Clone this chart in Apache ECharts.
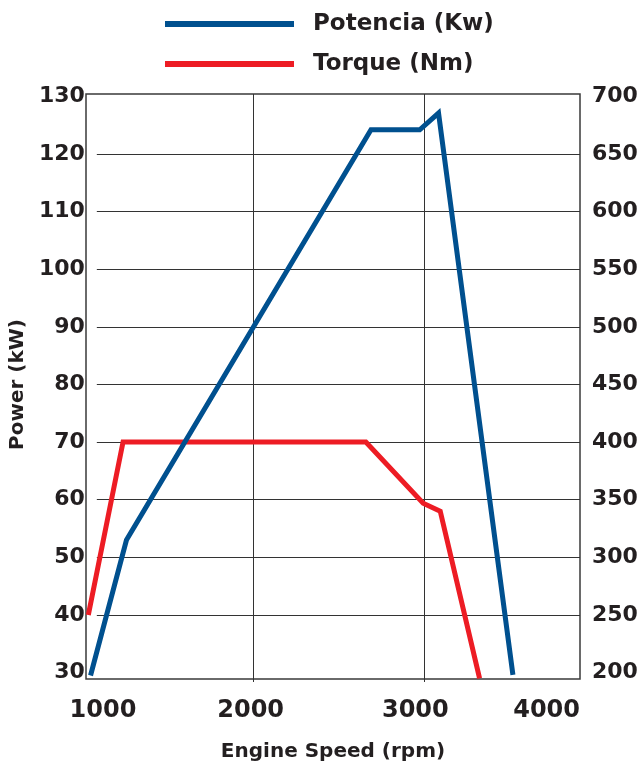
<!DOCTYPE html>
<html>
<head>
<meta charset="utf-8">
<script src="https://cdn.jsdelivr.net/npm/echarts@6/dist/echarts.min.js"></script>
<style>
html,body{margin:0;padding:0;background:#fff;}
#c{width:642px;height:767px;}
</style>
</head>
<body>
<div id="c"></div>
<script>
// Data
const rpmPower = [1050, 1260, 2690, 2975, 3085, 3520];
const powerKw  = [29.5, 53, 124.2, 124.2, 127.1, 29.6];
const rpmTorque = [1037, 1240, 2660, 2995, 3095, 3325];
const torqueNm  = [250, 400, 400, 347, 340, 195];
const rpmTicks = [1000, 2000, 3000, 4000];
const powerTicks = [30, 130, 10];
const torqueTicks = [200, 700, 50];
const seriesNames = ['Potencia (Kw)', 'Torque (Nm)'];

const FONT = '"DejaVu Sans"';
const TXT = '#231f20';
const BLUE = '#00508f';
const RED = '#ed1c24';
const GRIDC = '#333333';

const chart = echarts.init(document.getElementById('c'), null, {renderer: 'canvas'});

const pSeries = rpmPower.map((r, i) => [r, powerKw[i]]);
const tSeries = rpmTorque.map((r, i) => [r, torqueNm[i]]);

const nPow = (powerTicks[1] - powerTicks[0]) / powerTicks[2] + 1;
const hColors = [];
for (let i = 0; i < nPow; i++) hColors.push(i === 0 || i === nPow - 1 ? 'rgba(0,0,0,0)' : GRIDC);
const vColors = rpmTicks.map((v, i) => (i === 0 || i === rpmTicks.length - 1) ? 'rgba(0,0,0,0)' : GRIDC);

const option = {
  animation: false,
  backgroundColor: '#ffffff',
  legend: {
    orient: 'vertical',
    left: 165,
    top: 11,
    padding: 0,
    itemWidth: 129,
    itemHeight: 6,
    itemGap: 14,
    icon: 'rect',
    data: seriesNames,
    textStyle: {
      fontFamily: FONT, fontWeight: 'bold', fontSize: 23, color: TXT,
      lineHeight: 26, padding: [0, 0, 0, 14]
    }
  },
  grid: [
    {left: 82, right: 47, top: 94, bottom: 85},
    {left: 86, right: 62, top: 96.4, bottom: 94.4},
    {left: 86, right: 62, top: 94, bottom: 85, show: true, borderColor: '#3a3a3a', borderWidth: 1.5, backgroundColor: 'rgba(0,0,0,0)'}
  ],
  xAxis: [
    {
      gridIndex: 0, type: 'value', min: rpmTicks[0], max: rpmTicks[rpmTicks.length - 1], interval: 1000,
      axisLine: {show: false}, axisTick: {show: false}, axisLabel: {show: false},
      splitLine: {show: true, lineStyle: {color: vColors, width: 1}}
    },
    {gridIndex: 1, type: 'value', min: rpmTicks[0], max: rpmTicks[rpmTicks.length - 1], show: false},
    {
      gridIndex: 2, type: 'value', min: rpmTicks[0], max: rpmTicks[rpmTicks.length - 1], interval: 1000,
      axisLine: {show: false}, axisTick: {show: false}, splitLine: {show: false},
      axisLabel: {
        show: true, margin: 20, fontFamily: FONT, fontWeight: 'bold', fontSize: 24, color: TXT,
        alignMaxLabel: 'right',
        formatter: function (v) { return v === rpmTicks[0] ? '{p|' + v + '}' : String(v); },
        rich: {p: {padding: [0, 0, 0, 34], fontFamily: FONT, fontWeight: 'bold', fontSize: 24, color: TXT}}
      },
      name: 'Engine Speed (rpm)', nameLocation: 'middle', nameGap: 63,
      nameTextStyle: {fontFamily: FONT, fontWeight: 'bold', fontSize: 20, color: TXT}
    }
  ],
  yAxis: [
    {gridIndex: 0, type: 'value', min: 28.37, max: 130.41, show: false},
    {gridIndex: 0, type: 'value', min: 191.85, max: 702.05, show: false, position: 'right'},
    {
      gridIndex: 1, type: 'value', min: powerTicks[0], max: powerTicks[1], interval: powerTicks[2],
      axisLine: {show: false}, axisTick: {show: false},
      axisLabel: {margin: 12, fontFamily: FONT, fontWeight: 'bold', fontSize: 22, color: TXT},
      splitLine: {show: true, lineStyle: {color: hColors, width: 1}},
      name: 'Power (kW)', nameLocation: 'middle', nameGap: 53,
      nameTextStyle: {fontFamily: FONT, fontWeight: 'bold', fontSize: 20, color: TXT}
    },
    {
      gridIndex: 1, type: 'value', position: 'right', min: torqueTicks[0], max: torqueTicks[1], interval: torqueTicks[2],
      axisLine: {show: false}, axisTick: {show: false}, splitLine: {show: false},
      axisLabel: {margin: 12, fontFamily: FONT, fontWeight: 'bold', fontSize: 22, color: TXT}
    },
    {gridIndex: 2, type: 'value', min: 0, max: 1, show: false}
  ],
  series: [
    {
      name: seriesNames[0], type: 'line', xAxisIndex: 0, yAxisIndex: 0,
      data: pSeries, symbol: 'none', z: 5,
      lineStyle: {color: BLUE, width: 5, join: 'miter'}, itemStyle: {color: BLUE}
    },
    {
      name: seriesNames[1], type: 'line', xAxisIndex: 0, yAxisIndex: 1,
      data: tSeries, symbol: 'none', z: 4,
      lineStyle: {color: RED, width: 5, join: 'miter'}, itemStyle: {color: RED}
    }
  ]
};
chart.setOption(option);
</script>
</body>
</html>
